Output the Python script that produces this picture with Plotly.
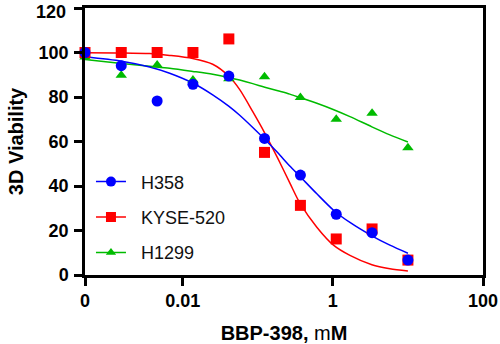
import numpy as np
import plotly.graph_objects as go

# ---- data ----
ZERO_POS = 0.0005  # where the "0" dose is drawn on the log axis
conc = [ZERO_POS, 0.00152, 0.00457, 0.0137, 0.0412, 0.123, 0.370, 1.11, 3.33, 10.0]

h358 = [100, 94.1, 78.2, 85.7, 89.4, 61.4, 44.9, 27.3, 19.0, 6.7]
kyse520 = [100, 100, 100, 100, 106.1, 55.1, 31.3, 16.2, 20.7, 6.7]
h1299 = [98, 89.8, 94.4, 87.6, 88.2, 89.1, 79.8, 70.0, 72.7, 57.2]

# fitted curves
curve_x = [0.0005, 0.00154, 0.00363, 0.00671, 0.0136, 0.0251, 0.0410, 0.0575, 0.0858,
           0.124, 0.185, 0.267, 0.363, 0.612, 1.03, 1.69, 3.31, 5.75, 10.0]
h358_fit = [98.1, 96.1, 93.5, 90.7, 86.3, 81.0, 75.9, 71.8, 66.3, 61.0, 54.9, 49.0,
            44.4, 36.5, 29.0, 23.6, 17.6, 13.4, 9.8]
kyse520_fit = [99.9, 99.8, 99.5, 98.7, 97.3, 94.7, 89.4, 83.3, 73.4, 63.8, 52.4, 41.4,
               32.4, 21.5, 13.3, 8.8, 4.6, 2.8, 1.8]
h1299_fit = [96.9, 95.1, 93.8, 92.9, 91.5, 90.2, 88.8, 87.6, 86.0, 84.4, 82.8, 81.3,
             79.8, 77.2, 74.3, 71.2, 66.6, 63.0, 59.8]

series_names = ["H358", "KYSE-520", "H1299"]
x_tickvals = [ZERO_POS, 0.01, 1, 100]
x_ticktext = ["0", "0.01", "1", "100"]
y_tickvals = [0, 20, 40, 60, 80, 100, 120]
y_ticktext = ["0", "20", "40", "60", "80", "100", ""]  # "120" drawn as annotation (sits lower)
y_top_label = "120"

BLUE, RED, GREEN = "#0000FF", "#FF0000", "#00BB00"
FONT = "Liberation Sans, Arial, sans-serif"

series = [
    ("H1299", h1299, h1299_fit, GREEN, "triangle-up", 10),
    ("KYSE-520", kyse520, kyse520_fit, RED, "square", 11),
    ("H358", h358, h358_fit, BLUE, "circle", 11),
]
style = {s[0]: s for s in series}

fig = go.Figure()
for name, ys, fit, col, sym, sz in series:
    fig.add_trace(go.Scatter(x=curve_x, y=fit, mode="lines",
                             line=dict(color=col, width=1.5, shape="spline", smoothing=0.8),
                             showlegend=False, hoverinfo="skip"))
for name, ys, fit, col, sym, sz in series:
    fig.add_trace(go.Scatter(x=conc, y=ys, mode="markers",
                             marker=dict(symbol=sym, size=sz, color=col, line=dict(width=0)),
                             showlegend=False, cliponaxis=False))

# legend entries (line + marker)
for name in series_names:
    d = style[name]
    fig.add_trace(go.Scatter(x=[None], y=[None], mode="lines+markers",
                             name="\u00a0\u00a0" + name,
                             line=dict(color=d[3], width=1.5),
                             marker=dict(symbol=d[4], size=d[5] - 1, color=d[3]),
                             legendgroup=name, showlegend=True))

TICKFONT = dict(family=FONT, size=18, color="black", weight=700)
axis_common = dict(
    showline=True, linecolor="black", linewidth=2.5, mirror=True,
    ticks="outside", ticklen=8, tickwidth=2.5, tickcolor="black",
    showgrid=False, zeroline=False, automargin=False, ticklabeloverflow="allow",
    tickfont=TICKFONT,
)

fig.update_layout(
    width=500, height=344,
    margin=dict(l=85, r=17, t=8, b=69),
    paper_bgcolor="white", plot_bgcolor="white",
    font=dict(family=FONT, color="black"),
    xaxis=dict(type="log", range=[np.log10(ZERO_POS), 2], tickvals=x_tickvals, ticktext=x_ticktext,
               title=dict(text="BBP-398, <span style='font-weight:normal'>m</span>M",
                          font=dict(family=FONT, size=20, color="black", weight=700), standoff=17),
               **axis_common),
    yaxis=dict(range=[0, 120], tickvals=y_tickvals, ticktext=y_ticktext, ticklabelstandoff=2,
               title=dict(text="3D Viability", font=dict(family=FONT, size=20, color="black", weight=700), standoff=10),
               **axis_common),
    legend=dict(x=0.015, y=0.418, xanchor="left", yanchor="top", bgcolor="rgba(0,0,0,0)",
                font=dict(family=FONT, size=18, color="#111"),
                traceorder="grouped", tracegroupgap=9),
    showlegend=True,
    annotations=[dict(text=y_top_label, xref="paper", yref="paper", x=0, y=1,
                      xanchor="right", yanchor="middle", xshift=-17, yshift=-4,
                      showarrow=False, font=TICKFONT)],
)

fig.write_html("out.html")
